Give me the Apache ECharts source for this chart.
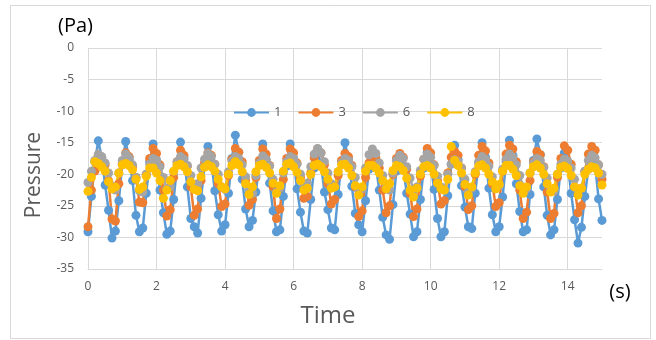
<!DOCTYPE html>
<html>
<head>
<meta charset="utf-8">
<script src="https://cdn.jsdelivr.net/npm/echarts@6/dist/echarts.min.js"></script>
<style>
  html, body { margin: 0; padding: 0; background: #fff; }
  #chart { width: 656px; height: 340px; }
</style>
</head>
<body>
<div id="chart"></div>
<script>
// time samples (s)
const time = [
  0, 0.1, 0.2, 0.3, 0.4, 0.5, 0.6, 0.7, 0.8, 0.9,
  1, 1.1, 1.2, 1.3, 1.4, 1.5, 1.6, 1.7, 1.8, 1.9,
  2, 2.1, 2.2, 2.3, 2.4, 2.5, 2.6, 2.7, 2.8, 2.9,
  3, 3.1, 3.2, 3.3, 3.4, 3.5, 3.6, 3.7, 3.8, 3.9,
  4, 4.1, 4.2, 4.3, 4.4, 4.5, 4.6, 4.7, 4.8, 4.9,
  5, 5.1, 5.2, 5.3, 5.4, 5.5, 5.6, 5.7, 5.8, 5.9,
  6, 6.1, 6.2, 6.3, 6.4, 6.5, 6.6, 6.7, 6.8, 6.9,
  7, 7.1, 7.2, 7.3, 7.4, 7.5, 7.6, 7.7, 7.8, 7.9,
  8, 8.1, 8.2, 8.3, 8.4, 8.5, 8.6, 8.7, 8.8, 8.9,
  9, 9.1, 9.2, 9.3, 9.4, 9.5, 9.6, 9.7, 9.8, 9.9,
  10, 10.1, 10.2, 10.3, 10.4, 10.5, 10.6, 10.7, 10.8, 10.9,
  11, 11.1, 11.2, 11.3, 11.4, 11.5, 11.6, 11.7, 11.8, 11.9,
  12, 12.1, 12.2, 12.3, 12.4, 12.5, 12.6, 12.7, 12.8, 12.9,
  13, 13.1, 13.2, 13.3, 13.4, 13.5, 13.6, 13.7, 13.8, 13.9,
  14, 14.1, 14.2, 14.3, 14.4, 14.5, 14.6, 14.7, 14.8, 14.9,
  15
];

// pressure (Pa)
const p1 = [
  -29.1, -23.5, -18.0, -14.7, -17.3, -21.7, -25.7, -30.1,
  -29.0, -24.2, -18.3, -14.8, -17.6, -21.0, -26.5, -29.1,
  -28.5, -23.0, -18.0, -15.2, -17.8, -22.5, -26.1, -29.5,
  -29.0, -24.0, -18.5, -14.9, -17.4, -22.0, -27.0, -28.3,
  -29.3, -23.8, -18.6, -15.6, -18.0, -22.6, -26.4, -29.0,
  -28.0, -23.0, -17.5, -13.8, -16.5, -20.8, -25.5, -28.3,
  -27.3, -22.8, -18.2, -15.2, -17.8, -21.4, -25.8, -29.1,
  -28.8, -23.5, -18.7, -15.2, -17.5, -22.3, -26.0, -29.0,
  -29.3, -24.0, -19.0, -16.5, -18.4, -22.8, -25.6, -28.5,
  -28.8, -23.2, -18.0, -15.0, -17.6, -21.9, -26.2, -28.0,
  -29.1, -24.2, -19.2, -16.8, -18.6, -22.5, -26.8, -29.6,
  -30.3, -24.8, -19.5, -17.2, -18.8, -23.0, -26.3, -29.9,
  -29.1, -24.0, -19.0, -16.5, -18.2, -22.4, -27.0, -29.9,
  -29.1, -23.4, -18.4, -15.4, -17.7, -21.8, -25.2, -28.3,
  -28.6, -23.0, -18.2, -15.0, -17.3, -22.2, -26.4, -29.1,
  -28.3, -23.6, -18.0, -14.6, -17.0, -21.5, -25.9, -29.1,
  -28.8, -23.2, -17.8, -14.4, -16.9, -22.0, -26.5, -29.6,
  -28.8, -24.0, -19.0, -16.6, -18.3, -23.0, -27.2, -30.9,
  -28.4, -23.5, -19.2, -16.8, -18.5, -23.9, -27.3
];
const p3 = [
  -28.3, -22.5, -19.5, -17.0, -17.4, -18.5, -21.0, -27.1,
  -27.4, -21.5, -18.5, -16.6, -17.2, -18.8, -20.5, -24.4,
  -24.5, -20.0, -17.5, -15.9, -16.7, -18.5, -22.5, -26.6,
  -25.6, -20.5, -18.0, -16.2, -17.0, -18.7, -22.0, -26.5,
  -25.5, -21.0, -18.2, -16.6, -17.0, -18.4, -21.5, -25.1,
  -24.7, -20.2, -17.6, -15.9, -16.5, -18.0, -21.0, -24.9,
  -24.0, -20.5, -17.8, -16.0, -16.8, -18.6, -22.0, -27.0,
  -25.5, -20.8, -17.5, -16.0, -16.6, -18.2, -20.5, -23.8,
  -23.5, -19.8, -17.4, -16.0, -16.6, -18.5, -21.5, -24.7,
  -24.0, -20.2, -17.8, -16.7, -17.2, -18.6, -22.0, -26.7,
  -25.8, -20.5, -18.2, -17.0, -17.4, -19.0, -22.5, -26.1,
  -25.0, -20.0, -17.5, -16.7, -17.3, -19.2, -23.0, -26.7,
  -25.5, -20.3, -17.6, -15.9, -16.6, -18.5, -21.0, -24.7,
  -24.2, -19.8, -17.3, -16.4, -17.0, -19.0, -22.0, -25.6,
  -25.0, -20.0, -17.0, -15.6, -16.3, -18.2, -21.5, -25.1,
  -24.5, -19.5, -16.8, -15.4, -16.0, -18.0, -22.5, -27.0,
  -26.0, -21.0, -18.0, -16.4, -16.9, -18.8, -22.8, -27.0,
  -26.2, -20.5, -17.5, -15.5, -16.2, -18.4, -22.0, -26.1,
  -25.0, -19.5, -16.8, -15.6, -16.2, -18.5, -20.8
];
const p6 = [
  -21.3, -19.5, -17.8, -16.8, -17.2, -18.2, -19.8, -21.8,
  -22.5, -19.8, -17.8, -16.8, -17.4, -18.5, -20.5, -22.6,
  -22.8, -20.0, -18.4, -17.5, -17.8, -18.8, -20.5, -22.3,
  -22.0, -19.5, -18.0, -17.2, -17.6, -18.6, -20.2, -21.8,
  -21.5, -19.0, -17.6, -16.7, -17.2, -18.4, -20.0, -22.0,
  -22.4, -19.6, -17.9, -17.2, -17.5, -18.5, -20.4, -22.5,
  -23.0, -20.2, -18.2, -17.1, -17.6, -18.7, -20.8, -22.8,
  -22.2, -19.8, -18.0, -17.2, -17.5, -18.4, -20.0, -21.8,
  -21.4, -18.8, -16.8, -15.9, -16.6, -18.0, -19.8, -21.5,
  -22.0, -19.6, -18.2, -17.5, -17.8, -18.8, -20.5, -22.4,
  -22.3, -19.0, -16.9, -16.0, -16.7, -18.2, -20.2, -22.0,
  -22.5, -19.8, -17.8, -17.0, -17.5, -18.8, -20.6, -22.6,
  -22.0, -19.4, -17.6, -16.8, -17.3, -18.6, -20.3, -22.0,
  -22.5, -20.0, -18.4, -17.7, -18.0, -19.0, -20.8, -22.8,
  -22.2, -19.6, -18.0, -17.2, -17.6, -18.7, -20.4, -22.3,
  -21.8, -19.2, -17.6, -16.8, -17.3, -18.5, -20.2, -22.0,
  -22.3, -19.8, -18.2, -17.5, -17.8, -18.9, -20.6, -22.5,
  -22.6, -20.0, -18.4, -17.6, -17.9, -19.0, -20.8, -22.6,
  -22.2, -19.5, -17.8, -17.0, -17.4, -18.5, -20.0
];
const p8 = [
  -22.7, -20.5, -18.0, -18.3, -18.8, -19.5, -21.2, -22.3,
  -22.0, -19.8, -18.5, -18.3, -18.6, -19.3, -20.8, -22.4,
  -22.0, -20.3, -19.0, -19.0, -19.8, -21.0, -23.8, -22.5,
  -21.0, -19.5, -18.6, -18.4, -18.8, -19.6, -21.2, -22.4,
  -22.6, -20.4, -18.9, -18.5, -18.8, -19.5, -20.8, -22.0,
  -22.3, -20.0, -18.6, -18.0, -18.5, -19.6, -21.5, -23.2,
  -22.0, -19.6, -18.6, -18.4, -18.9, -19.8, -21.4, -23.0,
  -21.8, -19.5, -18.4, -18.2, -18.8, -19.7, -21.0, -22.5,
  -22.2, -20.0, -18.6, -18.4, -18.8, -19.6, -20.8, -22.2,
  -22.0, -19.6, -18.5, -18.4, -19.0, -20.2, -21.8, -23.3,
  -22.0, -19.5, -18.6, -18.6, -19.0, -19.8, -21.0, -22.3,
  -21.5, -19.4, -18.6, -18.8, -19.4, -20.6, -22.5, -23.6,
  -22.2, -20.0, -18.8, -18.6, -19.0, -20.0, -21.4, -22.3,
  -22.5, -20.8, -15.6, -17.8, -18.6, -19.8, -21.6, -23.3,
  -22.0, -19.8, -18.7, -18.5, -19.0, -20.0, -21.2, -22.3,
  -21.6, -19.5, -18.6, -18.6, -19.2, -20.2, -21.8, -23.0,
  -22.0, -19.8, -18.8, -18.5, -19.0, -20.0, -21.5, -22.8,
  -22.2, -20.0, -18.9, -18.7, -19.1, -20.2, -22.0, -23.3,
  -22.2, -20.0, -19.2, -18.8, -19.0, -19.8, -21.7
];

const names = ["1", "3", "6", "8"];
const colors = ["#5B9BD5", "#ED7D31", "#A5A5A5", "#FFC000"];
const values = [p1, p3, p6, p8];

const font = "'Open Sans', 'Noto Sans', sans-serif";

const chart = echarts.init(document.getElementById("chart"));

let series = values.map((v, i) => ({
  name: names[i],
  type: "line",
  data: time.map((t, j) => [t, v[j]]),
  symbol: "circle",
  symbolSize: 9,
  showSymbol: true,
  color: colors[i],
  lineStyle: { width: 2.5, color: colors[i] },
  itemStyle: { color: colors[i] },
  animation: false,
}));

let option = {
  backgroundColor: "#fff",
  animation: false,
  grid: { left: 88, right: 54, top: 48, bottom: 71 },
  legend: {
    data: names,
    left: 228,
    top: 101,
    itemWidth: 35,
    itemHeight: 11,
    itemGap: 16,
    textStyle: { color: "#595959", fontSize: 13, fontFamily: font },
  },
  xAxis: {
    type: "value",
    min: 0,
    max: 15,
    interval: 2,
    axisLine: { onZero: false, lineStyle: { color: "#d9d9d9", width: 1 } },
    axisTick: { show: false },
    axisLabel: {
      color: "#595959",
      fontSize: 12,
      fontFamily: font,
      margin: 12,
      showMaxLabel: false,
    },
    splitLine: { show: true, showMaxLine: false, lineStyle: { color: "#d9d9d9", width: 1 } },
  },
  yAxis: {
    type: "value",
    min: -35,
    max: 0,
    interval: 5,
    axisLine: { show: false },
    axisTick: { show: false },
    axisLabel: { color: "#595959", fontSize: 12, fontFamily: font, margin: 14 },
    splitLine: { lineStyle: { color: "#d9d9d9", width: 1 } },
  },
  graphic: [
    {
      type: "rect",
      shape: { x: 10.5, y: 5.5, width: 640, height: 333 },
      style: { fill: "none", stroke: "#d9d9d9", lineWidth: 1 },
      silent: true,
    },
    {
      type: "text",
      left: 58,
      top: 16,
      style: { text: "(Pa)", fill: "#000", fontSize: 20, fontFamily: font },
    },
    {
      type: "text",
      x: 34,
      y: 175,
      rotation: Math.PI / 2,
      style: {
        text: "Pressure",
        fill: "#595959",
        fontSize: 21,
        fontFamily: font,
        align: "center",
        verticalAlign: "middle",
      },
    },
    {
      type: "text",
      x: 328,
      y: 316,
      style: {
        text: "Time",
        fill: "#595959",
        fontSize: 24,
        fontFamily: font,
        align: "center",
        verticalAlign: "middle",
      },
    },
    {
      type: "text",
      x: 620,
      y: 292,
      style: {
        text: "(s)",
        fill: "#000",
        fontSize: 20,
        fontFamily: font,
        align: "center",
        verticalAlign: "middle",
      },
    },
  ],
  series: series,
};

chart.setOption(option);
</script>
</body>
</html>
